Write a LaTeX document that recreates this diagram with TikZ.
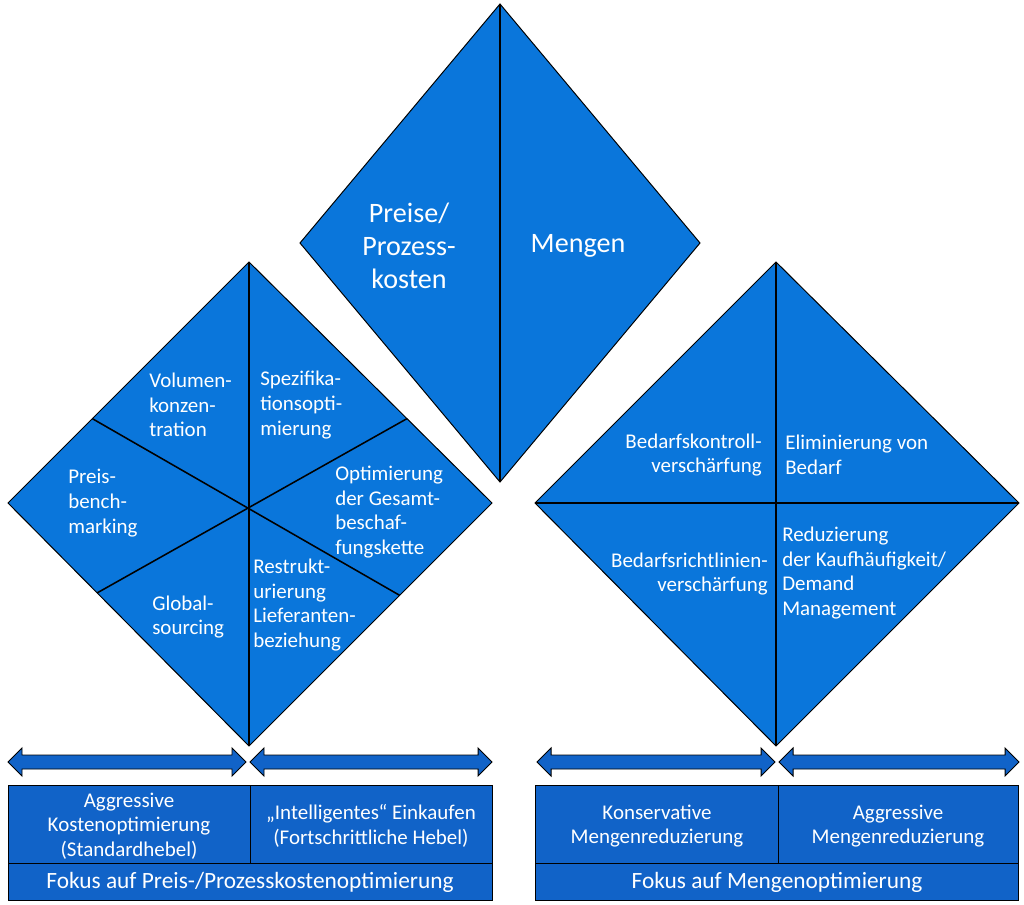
\documentclass[tikz,border=0pt]{standalone}
\usepackage{fontspec}
\setmainfont{Carlito}
\usepackage{xcolor}
\usetikzlibrary{calc,positioning}
\definecolor{diablue}{RGB}{10,118,219}
\definecolor{boxblue}{RGB}{17,99,200}
% double arrow between x1 and x2 at height y (pixel units)
\newcommand{\dblarrow}[3]{%
  \path[boxfield] (#1,#3) -- (#1+14,#3-14) -- (#1+14,#3-7) -- (#2-14,#3-7) -- (#2-14,#3-14)
    -- (#2,#3) -- (#2-14,#3+14) -- (#2-14,#3+7) -- (#1+14,#3+7) -- (#1+14,#3+14) -- cycle;}

\begin{document}
\begin{tikzpicture}[x=0.025cm, y=-0.025cm]
	\tikzstyle{every node} = [text = white, inner sep = 0pt]
	\tikzstyle{field} = [fill = diablue, draw = black, line width = 0.7pt]
	\tikzstyle{boxfield} = [fill = boxblue, draw = black, line width = 0.7pt]
	\tikzstyle{divider} = [draw = black, line width = 1.1pt]
	\tikzstyle{txt} = [font = \fontsize{14.9}{17.6}\selectfont]
	\tikzstyle{fokustxt} = [font = \fontsize{16.6}{19}\selectfont]
	\tikzstyle{bigtxt} = [font = \fontsize{20}{23.5}\selectfont]
	\useasboundingbox (0,0) rectangle (1024,905);

% top diamond
\coordinate (pT) at (500,4);
\coordinate (pL) at (300,243);
\coordinate (pR) at (700,243);
\coordinate (pB) at (500,482);
	\path[field] (pT) -- (pR) -- (pB) -- (pL) -- cycle;
	\path[divider] (pT) -- (pB);
\node[bigtxt, align = center] (preise) at (409,246) {Preise/\\Prozess-\\kosten};
\node[bigtxt] (mengen) at (578,246) {Mengen};

% left diamond
\coordinate (lT) at (249,262);
\coordinate (lL) at (8,503);
\coordinate (lR) at (492,503);
\coordinate (lB) at (249,746);
\coordinate (lUL) at ($(lL)!0.35!(lT)$);
\coordinate (lUR) at ($(lR)!0.35!(lT)$);
\coordinate (lLL) at ($(lL)!0.37!(lB)$);
\coordinate (lLR) at ($(lR)!0.38!(lB)$);
	\path[field] (lT) -- (lR) -- (lB) -- (lL) -- cycle;
	\path[divider] (lT) -- (lB);
	\path[divider] (lUL) -- (lLR);
	\path[divider] (lUR) -- (lLL);
\node[txt, align = left, anchor = west] (volumen) at (149,405) {Volumen-\\konzen-\\tration};
\node[txt, align = left, anchor = west] (spezi) at (260,405) {Spezifika-\\tionsopti-\\mierung};
\node[txt, align = left, anchor = west] (preisbm) at (68,503) {Preis-\\bench-\\marking};
\node[txt, align = left, anchor = west] (gesamt) at (335,512) {Optimierung\\der Gesamt-\\beschaf-\\fungskette};
\node[txt, align = left, anchor = west] (global) at (152,617) {Global-\\sourcing};
\node[txt, align = left, anchor = west] (restrukt) at (253,605) {Restrukt-\\urierung\\Lieferanten-\\beziehung};

% right diamond
\coordinate (rT) at (776,262);
\coordinate (rL) at (535,503);
\coordinate (rR) at (1019,503);
\coordinate (rB) at (776,746);
	\path[field] (rT) -- (rR) -- (rB) -- (rL) -- cycle;
	\path[divider] (rT) -- (rB);
	\path[divider] (rL) -- (rR);
\node[txt, align = right, anchor = east] (kontroll) at (762,455) {Bedarfskontroll-\\verschärfung};
\node[txt, align = left, anchor = west] (elimin) at (785,455) {Eliminierung von\\Bedarf};
\node[txt, align = right, anchor = east] (richtl) at (768,574) {Bedarfsrichtlinien-\\verschärfung};
\node[txt, align = left, anchor = west] (reduz) at (782,573) {Reduzierung\\der Kaufhäufigkeit/\\Demand\\Management};

% arrows
	\dblarrow{8}{246}{762}
	\dblarrow{250}{492}{762}
	\dblarrow{537}{775}{762}
	\dblarrow{779}{1019}{762}

% boxes left
	\path[boxfield] (8,785) rectangle (250,863);
	\path[boxfield] (250,785) rectangle (492,863);
	\path[boxfield] (8,863) rectangle (492,900);
\node[txt, align = center] (aggrkost) at (129,826) {Aggressive\\Kostenoptimierung\\(Standardhebel)};
\node[txt, align = center] (intell) at (371,826) {„Intelligentes“ Einkaufen\\(Fortschrittliche Hebel)};
\node[fokustxt] (fokuspreis) at (250,882) {Fokus auf Preis-/Prozesskostenoptimierung};

% boxes right
	\path[boxfield] (535,785) rectangle (778,863);
	\path[boxfield] (778,785) rectangle (1018,863);
	\path[boxfield] (535,863) rectangle (1018,900);
\node[txt, align = center] (konserv) at (657,826) {Konservative\\Mengenreduzierung};
\node[txt, align = center] (aggrmenge) at (898,826) {Aggressive\\Mengenreduzierung};
\node[fokustxt] (fokusmenge) at (777,882) {Fokus auf Mengenoptimierung};
\end{tikzpicture}
\end{document}
